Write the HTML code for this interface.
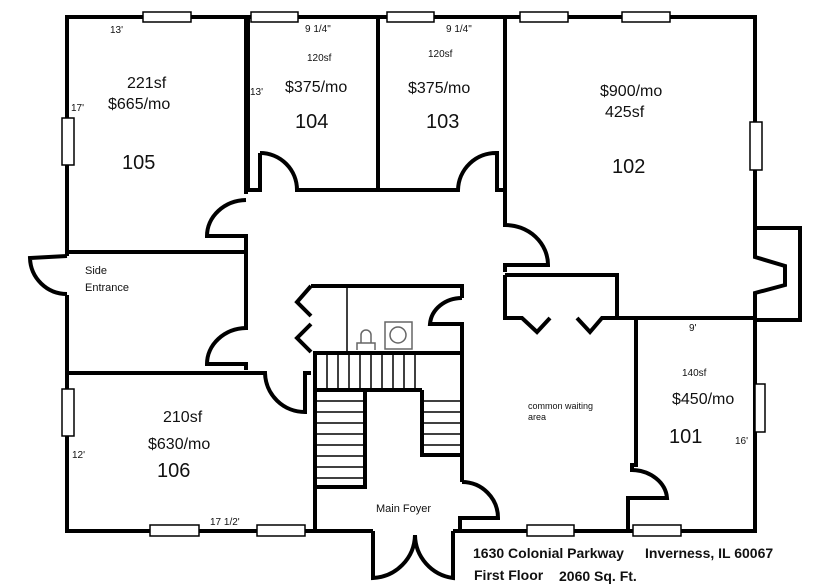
<!DOCTYPE html>
<html><head><meta charset="utf-8"><style>
html,body{margin:0;padding:0;background:#fff;}
svg{display:block;}
text{font-family:"Liberation Sans",sans-serif;fill:#111;}
</style></head><body>
<svg width="813" height="588" viewBox="0 0 813 588" xmlns="http://www.w3.org/2000/svg">
<g fill="none" stroke="#000" stroke-width="4" stroke-linejoin="miter">
<polyline points="67,256 67,17 755,17 755,228"/>
<polyline points="67,295 67,531 373,531"/>
<polyline points="453,531 755,531 755,320"/>
<polyline points="755,228 800,228 800,320 755,320"/>
<polyline points="755,228 755,257 785,266 785,285 755,293 755,320"/>
<path d="M67,256 L30,258 A37,37 0 0 0 67,294"/>
<polyline points="246,17 246,192 248,192"/>
<path d="M246,200 A40,36 0 0 0 207,236 L246,236 L246,252"/>
<polyline points="67,252 246,252"/>
<path d="M246,252 L246,328 A40,36 0 0 0 207,364 L246,364 L246,370"/>
<path d="M67,373 L265,373 A40,40 0 0 0 305,412 L305,373 L311,373"/>
<polyline points="248,17 248,190 260,190 260,153"/>
<path d="M260,153 A37,37 0 0 1 297,190 L458,190 A38,38 0 0 1 497,153 L497,190 L505,190"/>
<line x1="378" y1="17" x2="378" y2="190"/>
<path d="M505,17 L505,225 A43,40 0 0 1 548,265 L505,265 L505,272"/>
<polyline points="505,275 617,275 617,318"/>
<polyline points="505,275 505,318 522,318 537,332 550,318"/>
<polyline points="577,318 590,332 602,318 755,318"/>
<path d="M636,318 L636,465 L632,465 L632,470 A36,30 0 0 1 667,498 L628,498 L628,531"/>
<polyline points="311,286 462,286 462,298"/>
<path d="M462,298 A32,28 0 0 0 430,324 L462,324 L462,482"/>
<polyline points="311,286 297,302 311,316"/>
<polyline points="311,324 297,338 311,352"/>
<path d="M462,482 A36,36 0 0 1 498,518 L460,518 L460,531"/>
<polyline points="315,531 315,353 460,353"/>
<line x1="315" y1="390" x2="422" y2="390"/>
<polyline points="365,390 365,487 315,487"/>
<polyline points="422,390 422,455 460,455"/>
<path d="M373,531 L373,578 A44,44 0 0 0 415,535 A44,44 0 0 0 453,578 L453,531"/>
</g>
<g stroke="#000" stroke-width="1.5" fill="none">
<line x1="347" y1="286" x2="347" y2="353"/>
<line x1="315" y1="354" x2="460" y2="354"/>
<path d="M327,353v37M338,353v37M349,353v37M360,353v37M371,353v37M382,353v37M393,353v37M404,353v37M415,353v37"/>
<path d="M315,401h50M315,412h50M315,423h50M315,434h50M315,445h50M315,456h50M315,467h50M315,478h50"/>
<path d="M422,401h38M422,412h38M422,423h38M422,434h38M422,445h38"/>
</g>
<g stroke="#666" stroke-width="1.5" fill="none">
<path d="M357,350 v-7 h18 v7 M361,343 v-8 a5,5 0 0 1 10,0 v8"/>
<rect x="385" y="322" width="27" height="27"/>
<circle cx="398" cy="335" r="8"/>
</g>
<g fill="#fff" stroke="#000" stroke-width="1.5">
<rect x="143" y="12" width="48" height="10"/><rect x="251" y="12" width="47" height="10"/><rect x="387" y="12" width="47" height="10"/><rect x="520" y="12" width="48" height="10"/><rect x="622" y="12" width="48" height="10"/>
<rect x="62" y="118" width="12" height="47"/><rect x="750" y="122" width="12" height="48"/>
<rect x="62" y="389" width="12" height="47"/><rect x="755" y="384" width="10" height="48"/>
<rect x="150" y="525" width="49" height="11"/><rect x="257" y="525" width="48" height="11"/>
<rect x="527" y="525" width="47" height="11"/><rect x="633" y="525" width="48" height="11"/>
</g>
<g font-size="10">
<text x="110" y="33">13'</text><text x="305" y="32">9 1/4"</text><text x="446" y="32">9 1/4"</text>
<text x="71" y="111">17'</text><text x="250" y="95">13'</text>
<text x="307" y="61">120sf</text><text x="428" y="57">120sf</text>
<text x="72" y="458">12'</text><text x="210" y="525">17 1/2'</text>
<text x="689" y="331">9'</text><text x="682" y="376">140sf</text><text x="735" y="444">16'</text>
</g>
<g font-size="16">
<text x="127" y="88">221sf</text><text x="108" y="109">$665/mo</text>
<text x="285" y="92">$375/mo</text><text x="408" y="93">$375/mo</text>
<text x="600" y="96">$900/mo</text><text x="605" y="117">425sf</text>
<text x="163" y="422">210sf</text><text x="148" y="449">$630/mo</text>
<text x="672" y="404">$450/mo</text>
</g>
<g font-size="20">
<text x="122" y="169">105</text><text x="295" y="128">104</text><text x="426" y="128">103</text>
<text x="612" y="173">102</text><text x="157" y="477">106</text><text x="669" y="443">101</text>
</g>
<g font-size="11">
<text x="85" y="274">Side</text><text x="85" y="291">Entrance</text>
<text x="376" y="512">Main Foyer</text>
</g>
<g font-size="9"><text x="528" y="409">common waiting</text><text x="528" y="420">area</text></g>
<g font-size="14" font-weight="bold">
<text x="473" y="558">1630 Colonial Parkway</text><text x="645" y="558">Inverness, IL 60067</text>
<text x="474" y="580">First Floor</text><text x="559" y="581">2060 Sq. Ft.</text>
</g>
</svg>
</body></html>
